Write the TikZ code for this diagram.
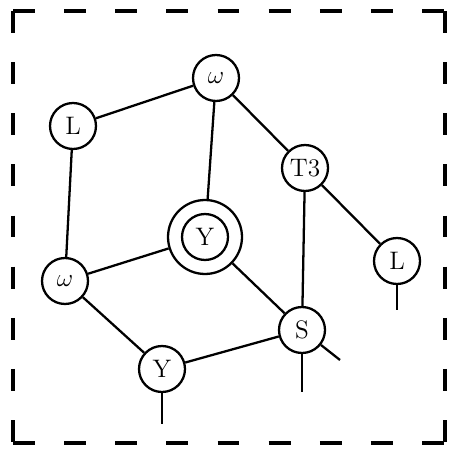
\documentclass[tikz,border=0pt]{standalone}
\usepackage{amsmath,amssymb}
\usepackage{xcolor}
\usepackage{tikz}
\usetikzlibrary{positioning,calc}

\tikzset{
  site/.style={draw,circle,line width=1.3pt,minimum size=0.92cm,inner sep=0pt,font=\Large},
  ring/.style={draw,circle,line width=1.3pt,minimum size=1.48cm,inner sep=0pt},
  bond/.style={line width=1.3pt},
  frame/.style={line width=2pt,dash pattern=on 12.5pt off 16.6pt}
}

\begin{document}
\begin{tikzpicture}[x=0.02cm,y=-0.02cm]
  \useasboundingbox (0,0) rectangle (451,455);
  % dashed frame, each side started at a corner
  \draw[frame] (13,11)--(445,11);
  \draw[frame] (445,11)--(445,443);
  \draw[frame] (13,443)--(445,443);
  \draw[frame] (13,11)--(13,443);
  % sites of the cluster
  \node[site] (wtop) at (216,78) {$\omega$};
  \node[site] (ltop) at (73,126) {L};
  \node[site] (t3) at (305,168) {T3};
  \node[ring] (yc) at (205,237) {};
  \node[site] (yin) at (yc) {Y};
  \node[site] (lr) at (397,261) {L};
  \node[site] (wl) at (65,281) {$\omega$};
  \node[site] (s) at (302,330) {S};
  \node[site] (yb) at (162,369) {Y};
  % free bond ends
  \coordinate (lrend) at (397,310);
  \coordinate (sdown) at (302,392);
  \coordinate (sdiag) at (340,360);
  \coordinate (ybend) at (162,424);
  % bonds
  \draw[bond] (ltop)--(wtop);
  \draw[bond] (wtop)--(yc);
  \draw[bond] (wtop)--(t3);
  \draw[bond] (ltop)--(wl);
  \draw[bond] (wl)--(yc);
  \draw[bond] (wl)--(yb);
  \draw[bond] (yc)--(s);
  \draw[bond] (t3)--(s);
  \draw[bond] (t3)--(lr);
  \draw[bond] (yb)--(s);
  \draw[bond] (lr)--(lrend);
  \draw[bond] (s)--(sdown);
  \draw[bond] (s)--(sdiag);
  \draw[bond] (yb)--(ybend);
\end{tikzpicture}
\end{document}
